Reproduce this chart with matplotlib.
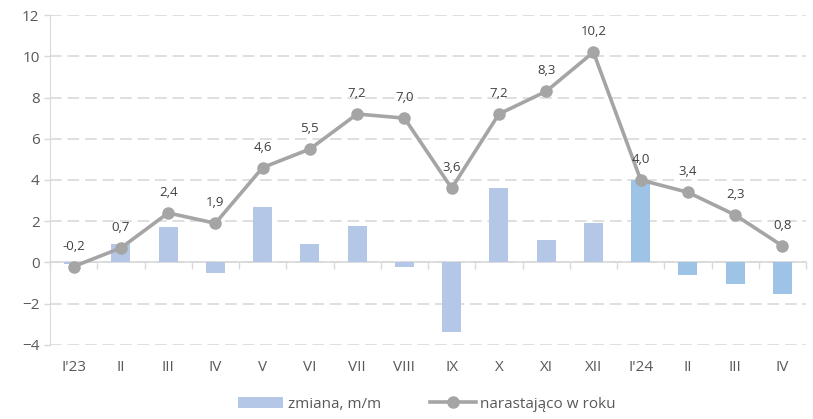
import numpy as np
import matplotlib
matplotlib.use("Agg")
import matplotlib.pyplot as plt

# data
months = ["I'23", "II", "III", "IV", "V", "VI", "VII", "VIII",
          "IX", "X", "XI", "XII", "I'24", "II", "III", "IV"]
change_mm = [-0.1, 0.9, 1.7, -0.5, 2.7, 0.9, 1.75, -0.2,
             -3.4, 3.6, 1.1, 1.9, 4.0, -0.6, -1.05, -1.55]
cumulative = [-0.2, 0.7, 2.4, 1.9, 4.6, 5.5, 7.2, 7.0,
              3.6, 7.2, 8.3, 10.2, 4.0, 3.4, 2.3, 0.8]

plt.rcParams['font.family'] = ['Open Sans', 'DejaVu Sans']

x = np.arange(len(months))
bar_colors = ["#B4C7E7"] * 12 + ["#9DC3E6"] * 4
txt = "#595959"
grid_c = "#D9D9D9"

fig = plt.figure(figsize=(8.13, 4.19), dpi=100)
ax = fig.add_axes([0.0615, 0.177, 0.93, 0.787])

ax.set_ylim(-4, 12)
ax.set_xlim(-0.5, len(months) - 0.5)
ax.set_yticks(np.arange(-4, 13, 2))
ax.yaxis.grid(True, color=grid_c, lw=1.2, ls=(0, (7, 3.5)))
ax.set_axisbelow(True)

bars = ax.bar(x, change_mm, width=0.4, color=bar_colors, label="zmiana, m/m", zorder=2)
line, = ax.plot(x, cumulative, color="#A5A5A5", lw=2.6, marker="o", markersize=8,
                label="narastająco w roku", zorder=3)

for xi, v in zip(x, cumulative):
    ax.annotate(f"{v:.1f}".replace(".", ","), (xi, v), xytext=(0, 10),
                textcoords="offset points", ha="center", va="bottom",
                fontsize=9.5, color="#404040")

for s in ["top", "right", "bottom"]:
    ax.spines[s].set_visible(False)
ax.spines["left"].set_color(grid_c)
ax.tick_params(axis="y", colors=grid_c, labelcolor=txt, labelsize=11, length=4, width=1)

ax.set_xticks(x)
ax.set_xticklabels(months)
ax.tick_params(axis="x", length=0, labelcolor=txt, labelsize=11, pad=11)

# category axis at zero
zero = ax.secondary_xaxis(0.25)
zero.set_xticks(np.arange(-0.5, len(months), 1))
zero.set_xticklabels([])
zero.spines["bottom"].set_color(grid_c)
zero.spines["bottom"].set_linewidth(1.2)
zero.tick_params(axis="x", direction="out", length=5, colors=grid_c, width=1)

fig.legend([bars, line], ["zmiana, m/m", "narastająco w roku"],
           loc="lower center", bbox_to_anchor=(0.525, -0.015), ncol=2, frameon=False,
           fontsize=11, labelcolor=txt, handlelength=3.0, columnspacing=3.2,
           handletextpad=0.3)

fig.savefig("out.png", dpi=100)
